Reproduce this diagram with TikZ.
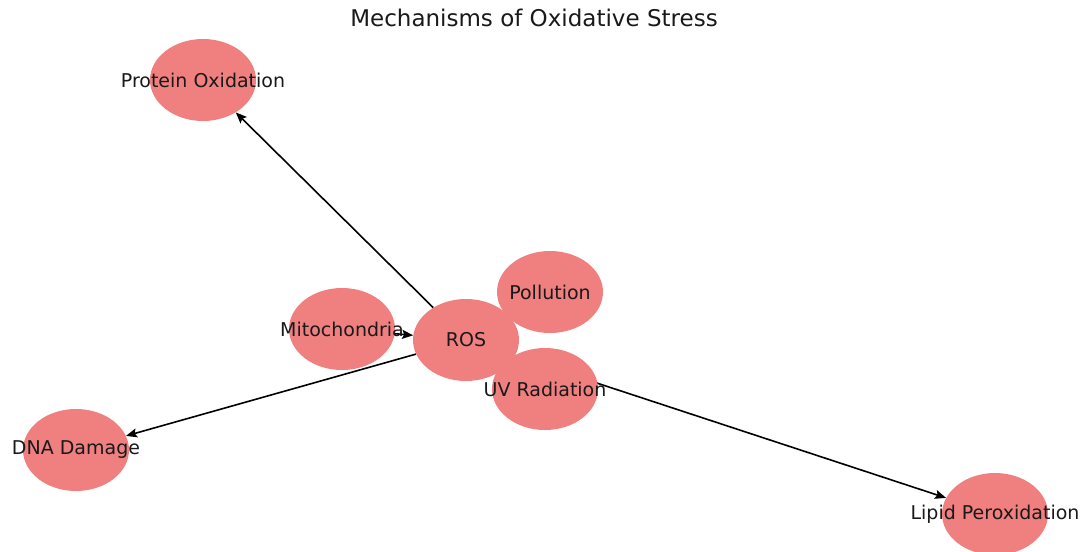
\documentclass[tikz,border=0pt]{standalone}
\usepackage{fontspec}
\setmainfont{DejaVu Sans}
\usetikzlibrary{shapes.geometric,arrows.meta}
\pgfdeclarelayer{bg}
\pgfsetlayers{bg,main}
\definecolor{lightcoral}{RGB}{240,128,128}
\tikzset{
  blob/.style={ellipse, fill=lightcoral, draw=none, minimum width=106pt, minimum height=82pt, inner sep=0pt},
  lbl/.style={font=\fontsize{19}{21}\selectfont, text=black!90, inner sep=0pt},
  edge/.style={draw=black, line width=1.6pt, -{Stealth[length=11pt,width=9pt,inset=2pt]}}
}
\begin{document}
\begin{tikzpicture}[x=1pt,y=-1pt]
\useasboundingbox (0,0) rectangle (1083,551);
\node[font=\fontsize{23}{26}\selectfont, text=black!90] (title) at (534,18) {Mechanisms of Oxidative Stress};
\node[blob] (prot) at (203,80) {};
\node[blob] (mito) at (342,329) {};
\node[blob] (ros) at (466,340) {};
\node[blob] (poll) at (550,292) {};
\node[blob] (uv) at (545,389) {};
\node[blob] (dna) at (76,450) {};
\node[blob] (lip) at (995,514) {};
\node[lbl] (tprot) at (prot) {Protein Oxidation};
\node[lbl] (tmito) at (mito) {Mitochondria};
\node[lbl] (tros) at (ros) {ROS};
\node[lbl] (tpoll) at (poll) {Pollution};
\node[lbl] (tuv) at (uv) {UV Radiation};
\node[lbl] (tdna) at (dna) {DNA Damage};
\node[lbl] (tlip) at (lip) {Lipid Peroxidation};
\begin{pgfonlayer}{bg}
\draw[edge] (mito) -- (ros);
\draw[edge] (ros) -- (prot);
\draw[edge] (ros) -- (dna);
\draw[edge] (ros) -- (lip);
\draw[edge] (poll) -- (ros);
\draw[edge] (uv) -- (ros);
\end{pgfonlayer}
\end{tikzpicture}
\end{document}
